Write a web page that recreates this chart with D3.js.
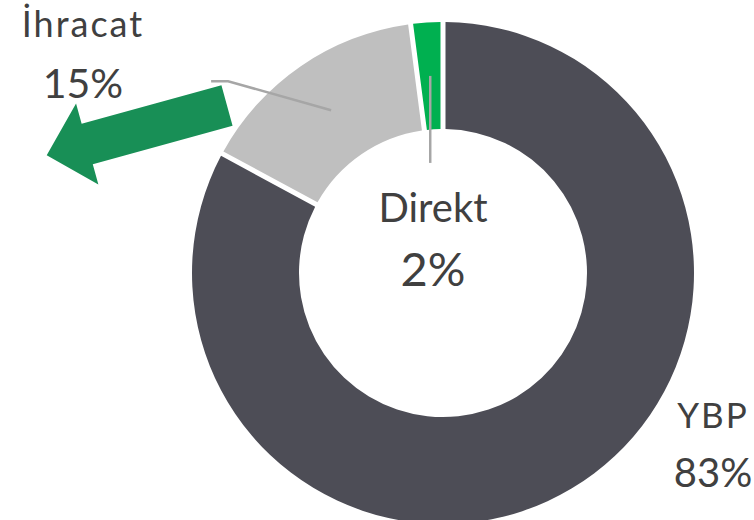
<!DOCTYPE html>
<html lang="tr">

<head>
  <meta charset="UTF-8">
  <script src="https://cdn.jsdelivr.net/npm/d3@7"></script>
  <title>Satış dağılımı</title>
  <style>
    body { margin: 0; background: #fff; }
    text { font-family: Lato, "Noto Sans", sans-serif; fill: #404040; }
  </style>
</head>

<body>
  <svg width="754" height="520"></svg>
  <script>
    // data
    var categories = ["YBP", "İhracat", "Direkt"];
    var values = [83.3, 14.9, 1.8];
    var colors = ["#4d4d56", "#bfbfbf", "#00b050"];

    var svg = d3.select("svg");
    var cx = 443, cy = 273;
    var outerR = 251, innerR = 144;

    var g = svg.append("g")
      .attr("transform", `translate(${cx},${cy})`);

    var pie = d3.pie()
      .sort(null)
      .value(d => d)
      .padAngle(5 / Math.sqrt(outerR * outerR + innerR * innerR));
    var arcs = pie(values);

    var arc = d3.arc()
      .innerRadius(innerR)
      .outerRadius(outerR);

    // dilimler
    g.selectAll(".slice")
      .data(arcs)
      .enter()
      .append("path")
      .attr("class", "slice")
      .attr("d", arc)
      .attr("fill", (d, i) => colors[i]);

    // yönlendirme çizgileri (dilim merkezinden)
    var cIhr = arc.centroid(arcs[1]);
    var cDir = arc.centroid(arcs[2]);

    g.append("path")
      .attr("d", d3.line()([cIhr, [cIhr[0] - 103, cIhr[1] - 29], [cIhr[0] - 120, cIhr[1] - 29]]))
      .attr("fill", "none")
      .attr("stroke", "#a6a6a6")
      .attr("stroke-width", 2.5);

    g.append("line")
      .attr("x1", cDir[0]).attr("y1", cDir[1])
      .attr("x2", cDir[0]).attr("y2", cDir[1] + 87)
      .attr("stroke", "#a6a6a6")
      .attr("stroke-width", 2.5);

    // etiketler: [x, isim y, yüzde y, isim boyutu, yüzde boyutu, harf aralığı]
    var labelPos = [
      [713, 428, 487, 35, 40, 2],
      [83, 37, 98, 36, 41, 2],
      [433, 222, 286, 40, 47, 0]
    ];

    categories.forEach(function (c, i) {
      var p = labelPos[i];
      svg.append("text")
        .attr("x", p[0]).attr("y", p[1])
        .attr("text-anchor", "middle")
        .style("font-size", p[3] + "px")
        .style("letter-spacing", p[5] + "px")
        .text(c);
      svg.append("text")
        .attr("x", p[0]).attr("y", p[2])
        .attr("text-anchor", "middle")
        .style("font-size", p[4] + "px")
        .text(Math.round(values[i]) + "%");
    });

    // yeşil ok (ihracat yönü)
    var arrowLen = 187, shaftW = 21, headW = 42, headLen = 42;
    var ap = d3.path();
    ap.moveTo(0, -shaftW);
    ap.lineTo(arrowLen - headLen, -shaftW);
    ap.lineTo(arrowLen - headLen, -headW);
    ap.lineTo(arrowLen, 0);
    ap.lineTo(arrowLen - headLen, headW);
    ap.lineTo(arrowLen - headLen, shaftW);
    ap.lineTo(0, shaftW);
    ap.closePath();

    svg.append("path")
      .attr("d", ap.toString())
      .attr("fill", "#188f56")
      .attr("transform", "translate(227,105.5) rotate(164.6)");
  </script>
</body>

</html>
